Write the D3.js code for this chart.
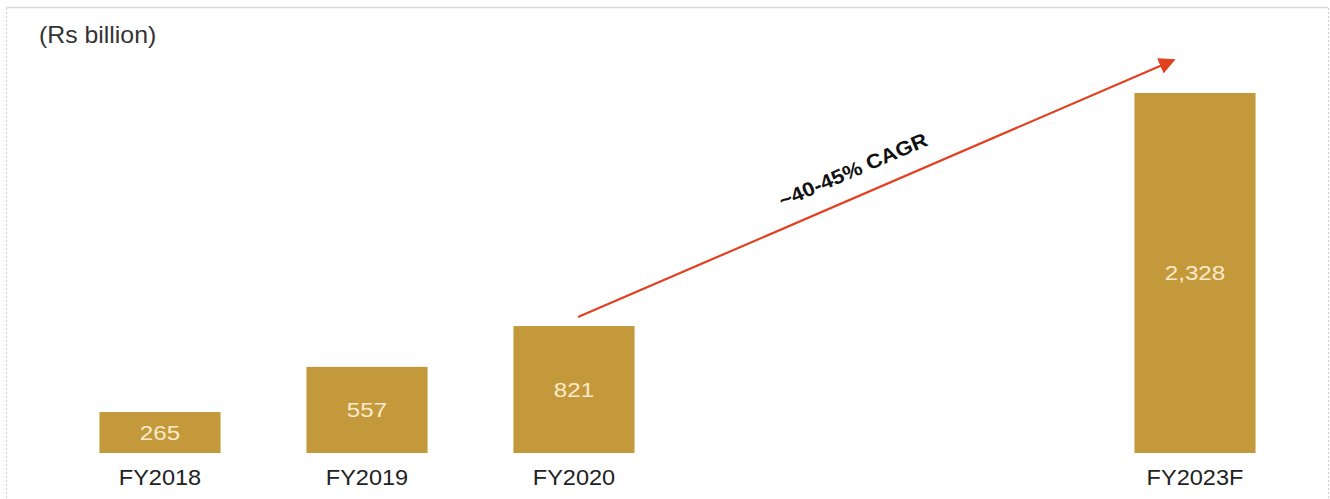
<!DOCTYPE html>
<html><head><meta charset="utf-8">
<script src="https://cdn.jsdelivr.net/npm/d3@7"></script>
<style>body{margin:0;background:#fff}svg{display:block}</style>
</head><body>
<svg id="c" width="1330" height="499"></svg>
<script>
const categories = ["FY2018","FY2019","FY2020","FY2021","FY2022","FY2023F"];
const tickLabels = ["FY2018","FY2019","FY2020","","","FY2023F"];
const values = [265, 557, 821, null, null, 2328];
const valueLabels = ["265","557","821","","","2,328"];
const unitLabel = "(Rs billion)";
const cagrLabel = "~40-45% CAGR";

const svg = d3.select("#c");
const W = 1330, H = 499;
const base = 453, topY = 93;
const font = "'Liberation Sans', Arial, sans-serif";

// frame
svg.append("line").attr("x1",6).attr("x2",1328).attr("y1",7.5).attr("y2",7.5).attr("stroke","#d9d9d9").attr("stroke-width",1.5);
svg.append("line").attr("x1",6.5).attr("x2",6.5).attr("y1",8).attr("y2",H).attr("stroke","#d0d0d0").attr("stroke-dasharray","2,2");
svg.append("line").attr("x1",1328.5).attr("x2",1328.5).attr("y1",8).attr("y2",H).attr("stroke","#d0d0d0").attr("stroke-dasharray","2,2");

const x = d3.scaleBand().domain(categories).range([56.5,1298.5]).paddingInner(0.415).paddingOuter(0.2075);
const y = d3.scaleLinear().domain([0,2328]).range([base, topY]);

const data = categories.map((c,i)=>({c, v:values[i], lab:valueLabels[i], tick:tickLabels[i]}));

svg.selectAll("rect.bar").data(data.filter(d=>d.v!=null)).join("rect")
  .attr("class","bar")
  .attr("x",d=>x(d.c)).attr("width",x.bandwidth())
  .attr("y",d=>y(d.v)).attr("height",d=>y(0)-y(d.v))
  .attr("fill","#C4993B");

svg.selectAll("text.val").data(data.filter(d=>d.v!=null)).join("text")
  .attr("class","val")
  .attr("transform",d=>`translate(${x(d.c)+x.bandwidth()/2},${(y(d.v)+y(0))/2}) scale(1.15,1)`)
  .attr("dy","0.35em")
  .attr("text-anchor","middle")
  .attr("font-family",font).attr("font-size",21)
  .attr("fill","#FBEBCB")
  .text(d=>d.lab);

const axis = d3.axisBottom(x).tickSize(0).tickPadding(0).tickFormat((d,i)=>tickLabels[i]);
const gx = svg.append("g").attr("transform",`translate(0,${base})`).call(axis);
gx.select(".domain").remove();
gx.selectAll("text").attr("font-family",font).attr("font-size",22).attr("fill","#222")
  .attr("y",null).attr("dy",null)
  .attr("transform","translate(0,26) scale(1.07,1)")
  .attr("dominant-baseline","middle");

svg.append("text").attr("transform","translate(39,43) scale(1.08,1)")
  .attr("font-family",font).attr("font-size",23).attr("fill","#333").text(unitLabel);

// arrow
const defs = svg.append("defs");
defs.append("marker").attr("id","ah").attr("viewBox","0 0 10 10").attr("refX",9).attr("refY",5)
  .attr("markerWidth",7.5).attr("markerHeight",7.5).attr("markerUnits","strokeWidth").attr("orient","auto")
  .append("path").attr("d","M0,0 L10,5 L0,10 Z").attr("fill","#E2401F");
const x0 = x("FY2020")+x.bandwidth()/2+4, y0 = y(821)-9;
const x1 = 1174, y1 = 60;
svg.append("line").attr("x1",x0).attr("y1",y0).attr("x2",x1).attr("y2",y1)
  .attr("stroke","#E2401F").attr("stroke-width",2.2).attr("marker-end","url(#ah)");
const ang = Math.atan2(y1-y0, x1-x0)*180/Math.PI;
svg.append("text").attr("transform",`translate(853,170) rotate(${ang}) scale(1.1,1)`)
  .attr("text-anchor","middle").attr("dy","0.35em")
  .attr("font-family",font).attr("font-size",20).attr("font-weight","bold").attr("fill","#111")
  .text(cagrLabel);
</script>
</body></html>
